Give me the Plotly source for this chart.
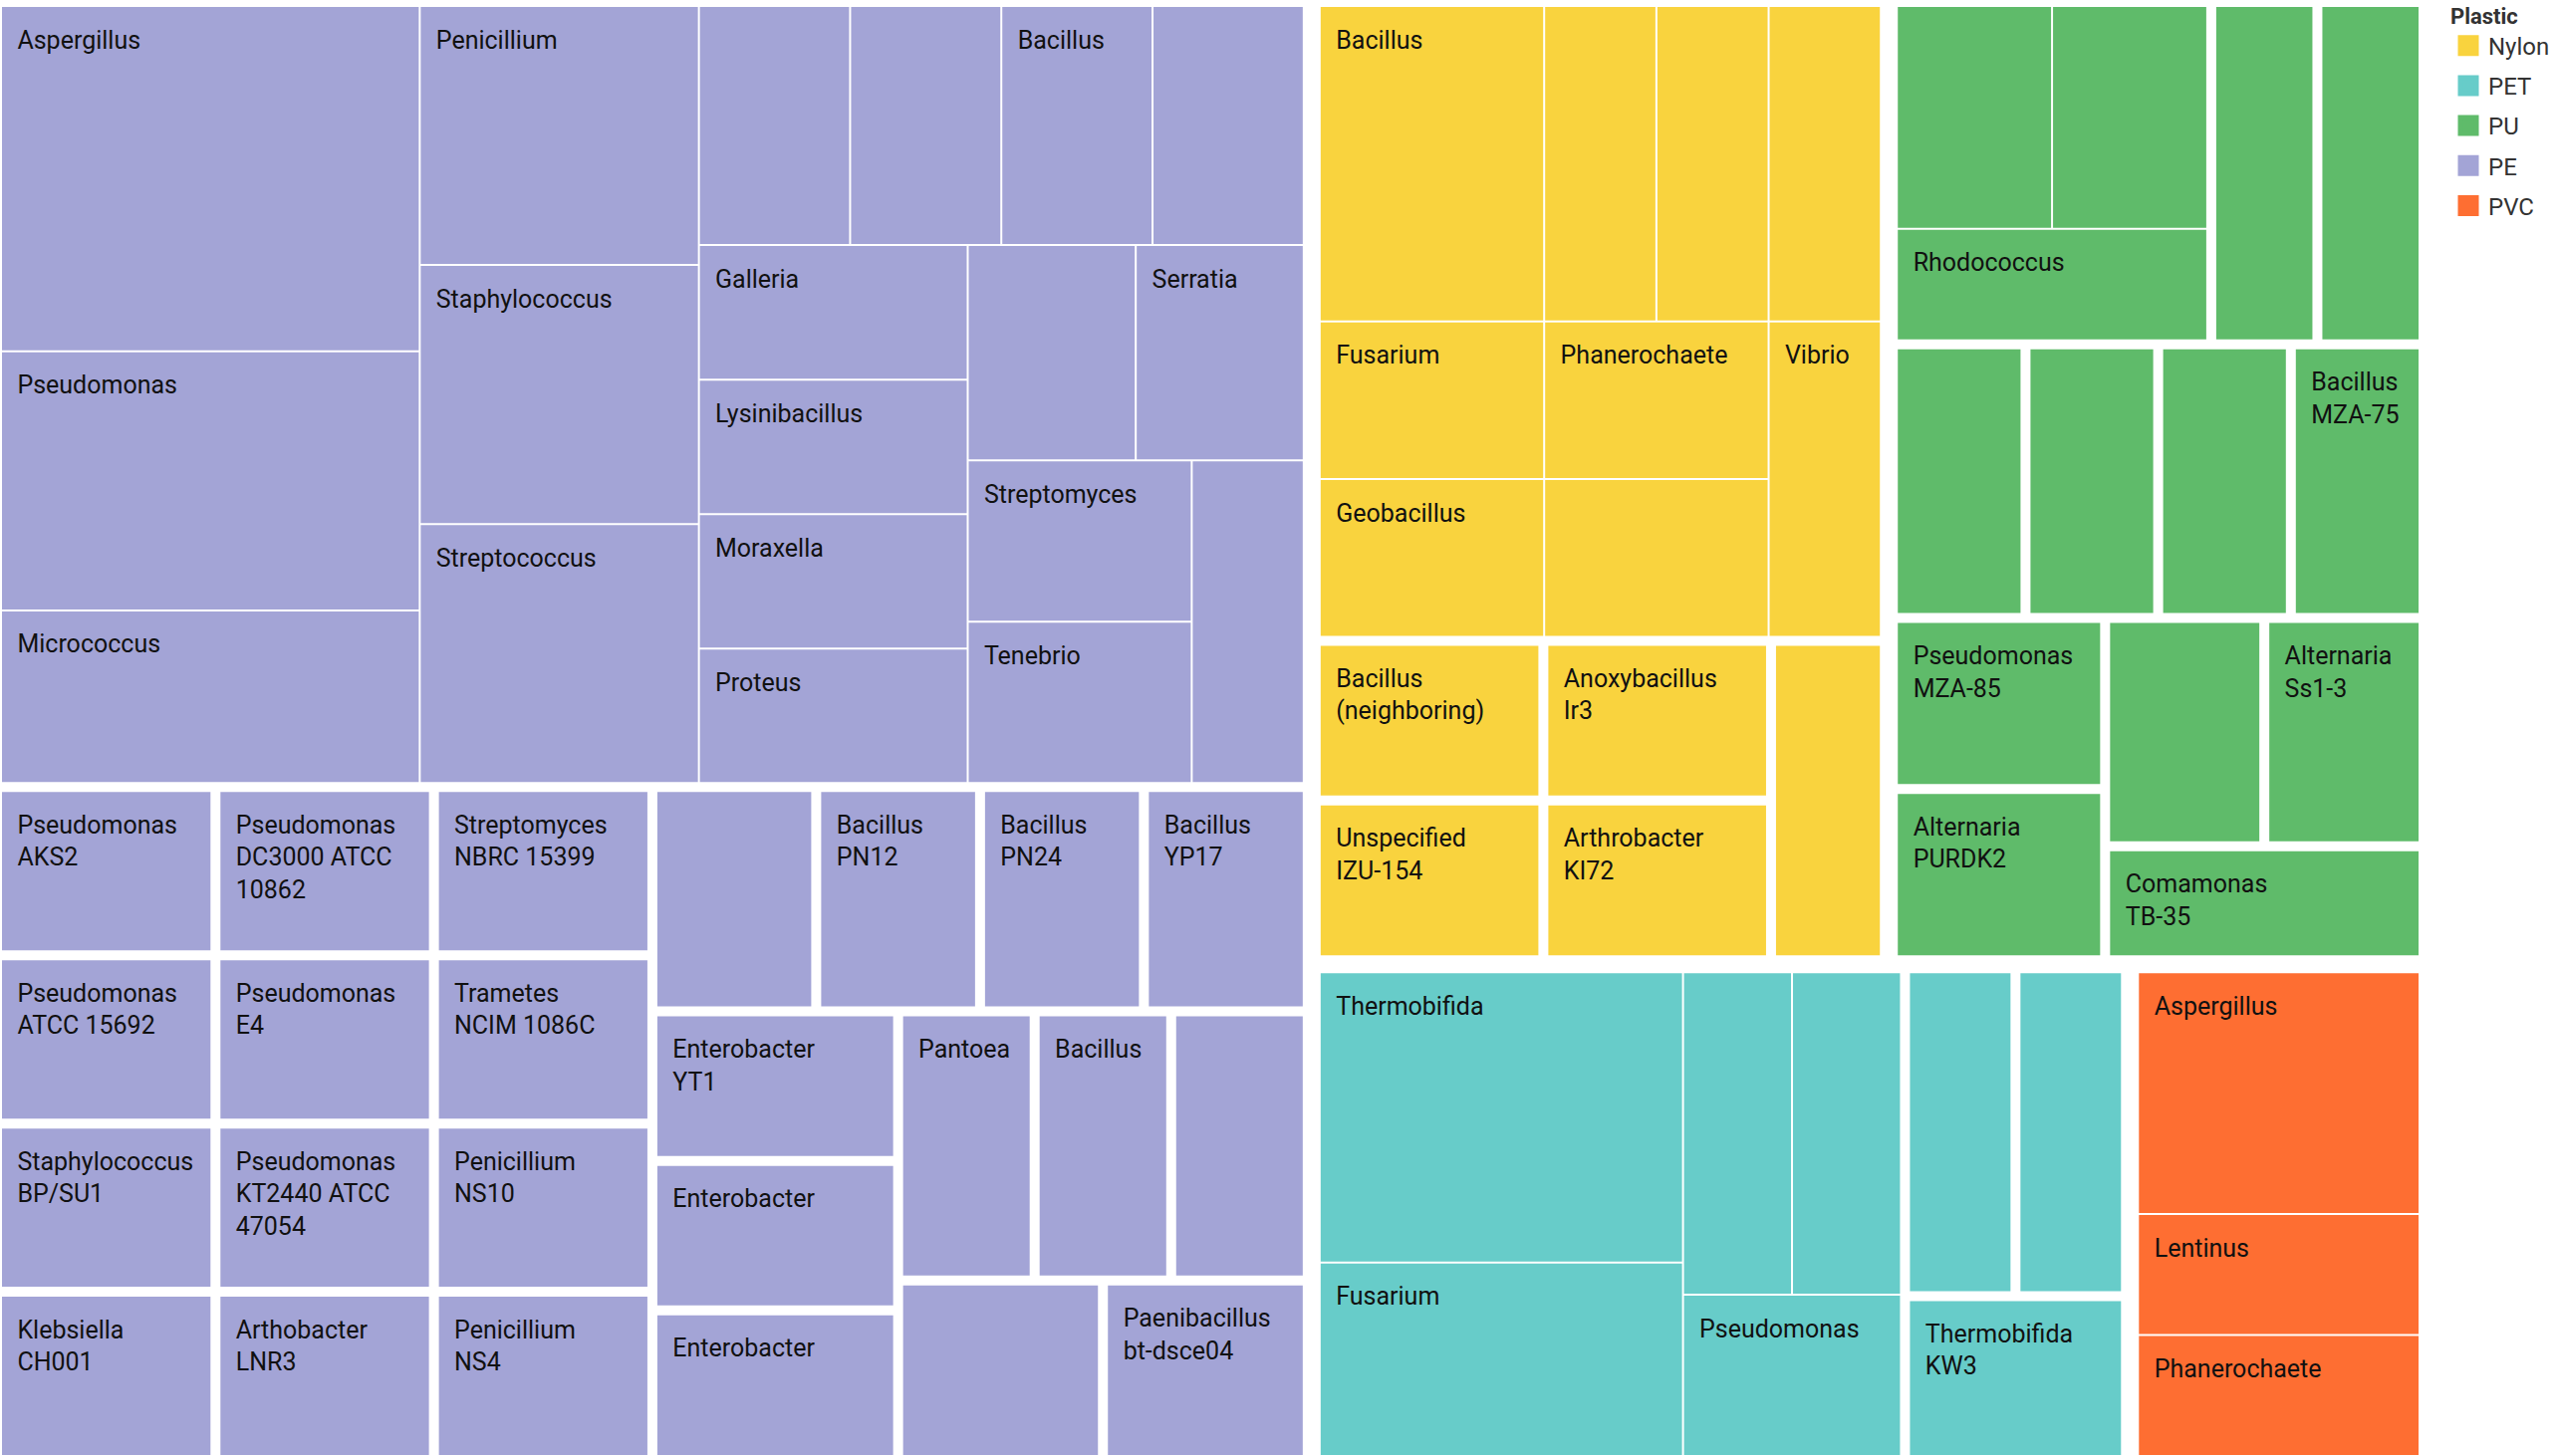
import plotly.graph_objects as go

# ---------------- data ----------------
plastic_order = ["PE", "Nylon", "PU", "PET", "PVC"]
plastic_colors = ["#A3A4D6", "#F9D33E", "#5FBB6A", "#67CCC9", "#FE6E32"]
legend_order = ["Nylon", "PET", "PU", "PE", "PVC"]

# organisms reported without a strain designation: (organism, number of records)
PE_genus = [("Aspergillus", 4), ("Pseudomonas", 3), ("Micrococcus", 2), ("Penicillium", 2),
            ("Staphylococcus", 2), ("Streptococcus", 2), ("Acinetobacter", 1), ("Arthrobacter", 1),
            ("Bacillus", 1), ("Brevibacillus", 1), ("Galleria", 1), ("Lysinibacillus", 1),
            ("Moraxella", 1), ("Proteus", 1), ("Rhodococcus", 1), ("Serratia", 1),
            ("Streptomyces", 1), ("Tenebrio", 1), ("Zophobas", 1)]
Nylon_genus = [("Bacillus", 2), ("Agromyces", 1), ("Alcaligenes", 1), ("Aspergillus", 1),
               ("Fusarium", 1), ("Geobacillus", 1), ("Phanerochaete", 1), ("Thermoactinomyces", 1),
               ("Vibrio", 1)]
PU_genus = [("Aspergillus", 1), ("Cladosporium", 1), ("Rhodococcus", 1)]
PET_genus = [("Thermobifida", 3), ("Fusarium", 2), ("Humicola", 1), ("Ideonella", 1), ("Pseudomonas", 1)]
PVC_genus = [("Aspergillus", 2), ("Lentinus", 1), ("Phanerochaete", 1)]

# organisms with a strain designation (label lines as wrapped in the chart): (label, records)
PE_strain = [("Pseudomonas\nAKS2", 1), ("Pseudomonas\nATCC 15692", 1), ("Staphylococcus\nBP/SU1", 1),
             ("Klebsiella\nCH001", 1), ("Pseudomonas\nDC3000 ATCC\n10862", 1), ("Pseudomonas\nE4", 1),
             ("Pseudomonas\nKT2440 ATCC\n47054", 1), ("Arthobacter\nLNR3", 1), ("Streptomyces\nNBRC 15399", 1),
             ("Trametes\nNCIM 1086C", 1), ("Penicillium\nNS10", 1), ("Penicillium\nNS4", 1),
             ("Brevibacillus\nPDM-3", 1), ("Bacillus\nPN12", 1), ("Bacillus\nPN24", 1), ("Bacillus\nYP17", 1),
             ("Enterobacter\nYT1", 1), ("Enterobacter", 1), ("Enterobacter", 1), ("Pantoea", 1),
             ("Bacillus", 1), ("Citrobacter", 1), ("Chryseobacterium", 1), ("Paenibacillus\nbt-dsce04", 1)]
Nylon_strain = [("Bacillus\n(neighboring)", 1), ("Unspecified\nIZU-154", 1), ("Anoxybacillus\nIr3", 1),
                ("Arthrobacter\nKI72", 1), ("Pseudomonas\nNK87", 1)]
PU_strain = [("Pseudomonas\nA12", 1), ("Acinetobacter\nAF1", 1), ("Pestalotiopsis\nE2712A", 1),
             ("Pseudomonas\nFS1", 1), ("Chaetomium\nMSU-1", 1), ("Bacillus\nMZA-75", 1),
             ("Pseudomonas\nMZA-85", 1), ("Alternaria\nPURDK2", 1), ("Penicillium\nRS-2", 1),
             ("Alternaria\nSs1-3", 1), ("Comamonas\nTB-35", 1)]
PET_strain = [("Ideonella\n201-F6", 1), ("Thermobifida\nDSM 43793", 1), ("Thermobifida\nKW3", 1)]
PVC_strain = []

# tiles whose label does not fit and is not drawn
unlabeled = [("PE", "Acinetobacter"), ("PE", "Arthrobacter"), ("PE", "Brevibacillus"), ("PE", "Rhodococcus"),
             ("PE", "Zophobas"), ("PE", "Brevibacillus\nPDM-3"), ("PE", "Citrobacter"), ("PE", "Chryseobacterium"),
             ("Nylon", "Agromyces"), ("Nylon", "Alcaligenes"), ("Nylon", "Aspergillus"),
             ("Nylon", "Thermoactinomyces"), ("Nylon", "Pseudomonas\nNK87"),
             ("PU", "Aspergillus"), ("PU", "Cladosporium"), ("PU", "Pseudomonas\nA12"), ("PU", "Acinetobacter\nAF1"),
             ("PU", "Pestalotiopsis\nE2712A"), ("PU", "Pseudomonas\nFS1"), ("PU", "Chaetomium\nMSU-1"),
             ("PU", "Penicillium\nRS-2"),
             ("PET", "Humicola"), ("PET", "Ideonella"), ("PET", "Ideonella\n201-F6"),
             ("PET", "Thermobifida\nDSM 43793")]

genus_tables = {"PE": PE_genus, "Nylon": Nylon_genus, "PU": PU_genus, "PET": PET_genus, "PVC": PVC_genus}
strain_tables = {"PE": PE_strain, "Nylon": Nylon_strain, "PU": PU_strain, "PET": PET_strain, "PVC": PVC_strain}

# ---------------- build hierarchy ----------------
LEAD = '<span style="font-size:6px">\u00a0</span><br>'
TEXT_COLOR = "#111111"
NO_TEXT = "rgba(0,0,0,0)"


def cell_text(plastic, label):
    if (plastic, label) in unlabeled:
        return ""
    return LEAD + "<br>".join("\u00a0\u00a0" + ln for ln in label.split("\n"))


ids, labels, parents, values, colors, texts, tcolors = [], [], [], [], [], [], []


def add(i, lab, par, val, col, txt, tcol):
    ids.append(i); labels.append(lab); parents.append(par)
    values.append(val); colors.append(col); texts.append(txt); tcolors.append(tcol)


for plastic, pcol in zip(plastic_order, plastic_colors):
    add(plastic, plastic, "", 0, "#ffffff", "", NO_TEXT)
    gid = plastic + "/no-strain"
    add(gid, "Strain not specified", plastic, 0, "#ffffff", "", NO_TEXT)
    for lab, n in genus_tables[plastic]:
        add(gid + "/" + lab, lab, gid, n, pcol, cell_text(plastic, lab), TEXT_COLOR)
    for j, (lab, n) in enumerate(strain_tables[plastic]):
        sid = f"{plastic}/strain{j}"
        flat = lab.replace("\n", " ")
        add(sid, flat, plastic, 0, "#ffffff", "", NO_TEXT)
        add(sid + "/leaf", flat, sid, n, pcol, cell_text(plastic, lab), TEXT_COLOR)

fig = go.Figure()
fig.add_trace(go.Treemap(
    ids=ids, labels=labels, parents=parents, values=values,
    branchvalues="remainder", sort=True,
    text=texts, textinfo="text", textposition="top left",
    textfont=dict(family="Roboto", size=25, color=tcolors),
    marker=dict(colors=colors, line=dict(width=0, color="#ffffff"),
                pad=dict(t=4, l=4, r=4, b=4), depthfade=False),
    tiling=dict(packing="squarify", squarifyratio=1.606, pad=2),
    pathbar=dict(visible=False),
    root=dict(color="#ffffff"),
    hoverinfo="skip",
    domain=dict(x=[0, 1], y=[0, 1]),
))

col_of = dict(zip(plastic_order, plastic_colors))
for p in legend_order:
    fig.add_trace(go.Scatter(
        x=[None], y=[None], mode="markers", name=p, legendgroup=p, showlegend=True,
        marker=dict(symbol="square", size=16, color=col_of[p], line=dict(width=5, color=col_of[p])),
        hoverinfo="skip",
    ))

fig.update_layout(
    width=2577, height=1478,
    margin=dict(l=0, r=127, t=0, b=0, pad=0, autoexpand=False),
    paper_bgcolor="#ffffff", plot_bgcolor="rgba(0,0,0,0)",
    xaxis=dict(visible=False), yaxis=dict(visible=False),
    hovermode=False,
    showlegend=True,
    legend=dict(
        x=2468 / 2450, xanchor="left", y=1.0, yanchor="top",
        title=dict(text="Plastic", font=dict(family="Roboto", size=22, color="#333333", weight="bold")),
        font=dict(family="Roboto", size=24, color="#333333"),
        tracegroupgap=6, itemsizing="trace", bgcolor="rgba(0,0,0,0)",
    ),
)

post = ("document.documentElement.style.overflow='hidden';"
        "document.body.style.margin='0';document.body.style.overflow='hidden';"
        "var g=document.getElementById('{plot_id}');"
        "g.style.position='absolute';g.style.left='-10px';g.style.top='-5px';")

fig.write_html("out.html", config={"displayModeBar": False}, post_script=post)
